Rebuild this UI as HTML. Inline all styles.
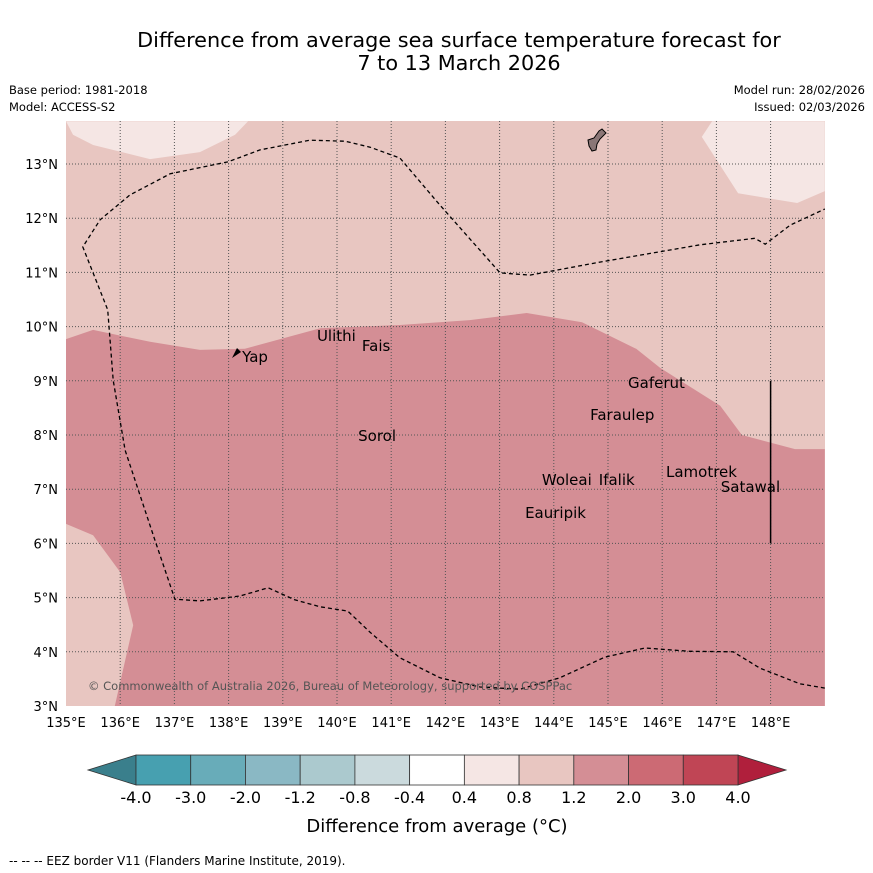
<!DOCTYPE html>
<html><head><meta charset="utf-8"><style>
body{margin:0;background:#fff;width:873px;height:873px;overflow:hidden;font-family:"Liberation Sans","DejaVu Sans",sans-serif}
svg{display:block}
text{font-family:"DejaVu Sans","Liberation Sans",sans-serif}
</style></head><body>
<svg id="c" width="873" height="873">
<rect width="873" height="873" fill="#fff"/>
<text x="459" y="47" font-size="20.8" text-anchor="middle">Difference from average sea surface temperature forecast for</text>
<text x="459" y="70" font-size="20.8" text-anchor="middle">7 to 13 March 2026</text>
<text x="9" y="94" font-size="11.5">Base period: 1981-2018</text>
<text x="9" y="111" font-size="11.5">Model: ACCESS-S2</text>
<text x="865" y="94" font-size="11.5" text-anchor="end">Model run: 28/02/2026</text>
<text x="865" y="111" font-size="11.5" text-anchor="end">Issued: 02/03/2026</text>
<g id="map"></g>
<g id="cbar"></g>
<text x="437" y="832" font-size="18" text-anchor="middle">Difference from average (°C)</text>
<text x="9" y="865" font-size="12">--  --  -- EEZ border V11 (Flanders Marine Institute, 2019).</text>
</svg>
<script>
const lonTicks=[135,136,137,138,139,140,141,142,143,144,145,146,147,148];
const latTicks=[3,4,5,6,7,8,9,10,11,12,13];
const cbLevels=["-4.0","-3.0","-2.0","-1.2","-0.8","-0.4","0.4","0.8","1.2","2.0","3.0","4.0"];
const cbColors=["#47a0b0","#68acb9","#8ab8c4","#abc9ce","#cbdadd","#ffffff","#f5e6e4","#e8c6c1","#d48e95","#cc6a74","#c04555"];
const darkRegion=[[135,9.77],[135.5,9.94],[136.55,9.72],[137.47,9.57],[138.3,9.59],[139.69,9.97],[141.16,10.03],[142.45,10.12],[143.5,10.25],[144.52,10.08],[145.52,9.59],[145.96,9.24],[147.07,8.54],[147.47,8.0],[148.45,7.74],[149,7.74],[149,3],[135.9,3],[136.24,4.49],[136,5.47],[135.5,6.15],[135,6.36]];
const topLeftPatch=[[135,13.79],[135.13,13.54],[135.5,13.35],[136.55,13.09],[137.47,13.22],[138.12,13.54],[138.36,13.79]];
const topRightPatch=[[146.92,13.79],[146.73,13.5],[147.4,12.46],[148.49,12.28],[149,12.5],[149,13.79]];
const eez=[[149,3.33],[148.54,3.41],[147.8,3.7],[147.31,4.0],[146.51,4.01],[145.68,4.07],[144.94,3.9],[144.11,3.52],[143.38,3.31],[142.64,3.35],[141.9,3.52],[141.16,3.89],[140.61,4.36],[140.2,4.75],[139.69,4.83],[139.22,4.96],[138.73,5.18],[138.21,5.03],[137.47,4.94],[137.01,4.97],[136.64,6.06],[136.09,7.72],[135.87,9.01],[135.77,10.31],[135.31,11.47],[135.63,11.97],[136.18,12.43],[136.92,12.82],[137.99,13.04],[138.58,13.26],[139.5,13.44],[140.15,13.42],[140.61,13.31],[141.16,13.11],[141.9,12.24],[143.01,10.99],[143.56,10.95],[144.85,11.19],[146.7,11.51],[147.71,11.63],[147.9,11.52],[148.36,11.87],[149,12.17]];
const islandNames=["Yap","Ulithi","Fais","Gaferut","Faraulep","Sorol","Woleai","Ifalik","Lamotrek","Satawal","Eauripik"];
const islandLon=[138.25,139.63,140.46,145.37,144.67,140.39,143.78,144.83,146.07,147.08,143.47];
const islandLat=[9.44,9.83,9.64,8.96,8.37,7.98,7.17,7.17,7.32,7.04,6.56];
const NS="http://www.w3.org/2000/svg";
const X0=66,X1=825,Y0=121,Y1=706;
const xS=lon=>66+(lon-135)*54.2;
const yS=lat=>706-(lat-3)*54.2;
function mk(tag,attrs,parent){const e=document.createElementNS(NS,tag);for(const k in attrs)e.setAttribute(k,attrs[k]);parent.appendChild(e);return e;}
const map=document.getElementById('map');
const pts=a=>a.map(p=>xS(p[0]).toFixed(1)+','+yS(p[1]).toFixed(1)).join(' ');
let bg=mk('rect',{x:X0,y:Y0,width:X1-X0,height:Y1-Y0,fill:'#e8c6c1'},map);


let dr=mk('polygon',{points:pts(darkRegion),fill:'#d48e95'},map);


let tl=mk('polygon',{points:pts(topLeftPatch),fill:'#f5e6e4'},map);


let tr=mk('polygon',{points:pts(topRightPatch),fill:'#f5e6e4'},map);


lonTicks.forEach(l=>{const x=xS(l);
 if(l>135){let g=mk('line',{x1:x,x2:x,y1:Y0,y2:Y1,stroke:'#555','stroke-width':1,'stroke-dasharray':'1,2'},map);
 
 }
 let t=mk('text',{x:x,y:727,'font-size':13,'text-anchor':'middle'},map);t.textContent=l+'°E';
 
 });
latTicks.forEach(l=>{const y=yS(l);
 if(l>3){let g=mk('line',{x1:X0,x2:X1,y1:y,y2:y,stroke:'#555','stroke-width':1,'stroke-dasharray':'1,2'},map);
 
 }
 let t=mk('text',{x:58,y:y+5,'font-size':13,'text-anchor':'end'},map);t.textContent=l+'°N';
 
 });
let ez=mk('polyline',{points:pts(eez),fill:'none',stroke:'#000','stroke-width':1.3,'stroke-dasharray':'4,3'},map);


let vl=mk('line',{x1:xS(148),x2:xS(148),y1:yS(9),y2:yS(6),stroke:'#000','stroke-width':1.5},map);


let guam=mk('path',{d:'M588,140 L594,138 L599,131 L602,129 L606,133 L600,139 L597,144 L596,150 L592,151 L589,146 Z',fill:'#8a7676',stroke:'#000','stroke-width':1},map);


let yap=mk('path',{d:'M232,358 L237,348 L241,352 Z',fill:'#000'},map);


islandNames.forEach((n,i)=>{
 let t=mk('text',{x:xS(islandLon[i]),y:yS(islandLat[i])+5,'font-size':15},map);t.textContent=n;
 
 });
let cp=mk('text',{x:88,y:690,'font-size':11.5,fill:'#555'},map);cp.textContent='© Commonwealth of Australia 2026, Bureau of Meteorology, supported by COSPPac';


const cb=document.getElementById('cbar');
const CX0=136,CX1=738,CY0=755,CY1=785;
const bw=(CX1-CX0)/cbColors.length;
let lt=mk('polygon',{points:`${CX0},${CY0} ${CX0},${CY1} 88,770`,fill:'#3a7f8c',stroke:'#333','stroke-width':0.8},cb);


let rt=mk('polygon',{points:`${CX1},${CY0} ${CX1},${CY1} 786,770`,fill:'#b01f3c',stroke:'#333','stroke-width':0.8},cb);


cbColors.forEach((c,i)=>{let r=mk('rect',{x:CX0+i*bw,y:CY0,width:bw,height:CY1-CY0,fill:c,stroke:'#333','stroke-width':0.8},cb);
 
 });
cbLevels.forEach((l,i)=>{let t=mk('text',{x:CX0+i*bw,y:803,'font-size':16,'text-anchor':'middle'},cb);t.textContent=l;
 
 });
</script>
</body></html>
